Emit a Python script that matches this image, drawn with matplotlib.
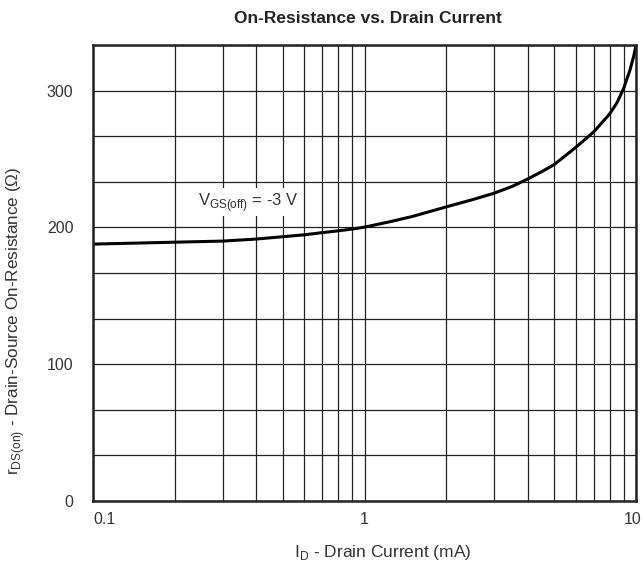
import matplotlib
matplotlib.use("Agg")
import matplotlib.pyplot as plt
import matplotlib.transforms as mtransforms
import numpy as np

plt.rcParams['font.family'] = ['Liberation Sans', 'DejaVu Sans']
plt.rcParams['mathtext.fontset'] = 'custom'
plt.rcParams['mathtext.rm'] = 'Liberation Sans'

# drain current (mA) and on-resistance (ohm)
current = [0.1, 0.2, 0.3, 0.4, 0.5, 0.6, 0.7, 0.8, 0.9, 1.0, 1.25, 1.5, 2.0,
           2.5, 3.0, 3.5, 4.0, 4.5, 5.0, 6.0, 7.0, 8.0, 8.5, 9.0, 9.5, 9.8, 10.0]
resistance = [187.8, 189.2, 190.0, 191.5, 193.2, 194.6, 196.2, 197.5, 198.8,
              200.2, 204.3, 208.0, 215.0, 220.3, 225.0, 230.0, 235.5, 240.8,
              246.0, 258.5, 270.0, 283.0, 291.0, 301.5, 315.0, 325.0, 333.0]
yticks = [0, 100, 200, 300]
xticks = [0.1, 1, 10]
xticklabels = ["0.1", "1", "10"]

fig = plt.figure(figsize=(6.44, 5.67), dpi=100)
ax = fig.add_axes([0.1444, 0.1164, 0.8432, 0.8042])

ax.plot(current, resistance, color='black', lw=2.2, zorder=3)
ax.set_xscale('log')
ax.set_xlim(0.1, 10)
ax.set_ylim(0, 333.3)

# grid: minor log lines in x, every 33.3 in y
ax.set_xticks(xticks)
ax.set_xticklabels(xticklabels)
ax.set_xticks([m * d for d in (0.1, 1) for m in range(2, 10)], minor=True)
ax.set_xticklabels([], minor=True)
ax.set_yticks(yticks)
ax.set_yticks(np.arange(0, 334, 100 / 3), minor=True)
ax.grid(True, which='both', color='#222222', lw=0.9)
ax.tick_params(which='both', length=0, labelsize=11.5, colors='#333333')
ax.tick_params(axis='y', pad=14)
ax.tick_params(axis='x', pad=8)
xl = ax.get_xticklabels()
xl[0].set_ha('left')
xl[-1].set_ha('right')
xl[-1].set_transform(xl[-1].get_transform() +
                     mtransforms.ScaledTranslation(5 / 100, 0, fig.dpi_scale_trans))
for s in ax.spines.values():
    s.set_linewidth(1.8)
    s.set_color('#222222')
    s.set_zorder(4)

ax.text(0.243, 218.5, r"V$_{\mathregular{GS(off)}}$ = -3 V", fontsize=12,
        color='#333333', va='center', ha='left',
        bbox=dict(facecolor='white', edgecolor='none', pad=2), zorder=2)

fig.text(0.571, 0.968, "On-Resistance vs. Drain Current", ha='center', va='center',
         fontsize=12.5, fontweight='bold', color='#222222')
fig.text(0.595, 0.026, r"I$_{\mathregular{D}}$ - Drain Current (mA)", fontsize=12.5,
         color='#333333', ha='center', va='center')
fig.text(0.024, 0.434, r"r$_{\mathregular{DS(on)}}$ - Drain-Source On-Resistance (Ω)",
         fontsize=12.3, color='#333333', ha='center', va='center', rotation=90)

fig.savefig("out.png", dpi=100)
